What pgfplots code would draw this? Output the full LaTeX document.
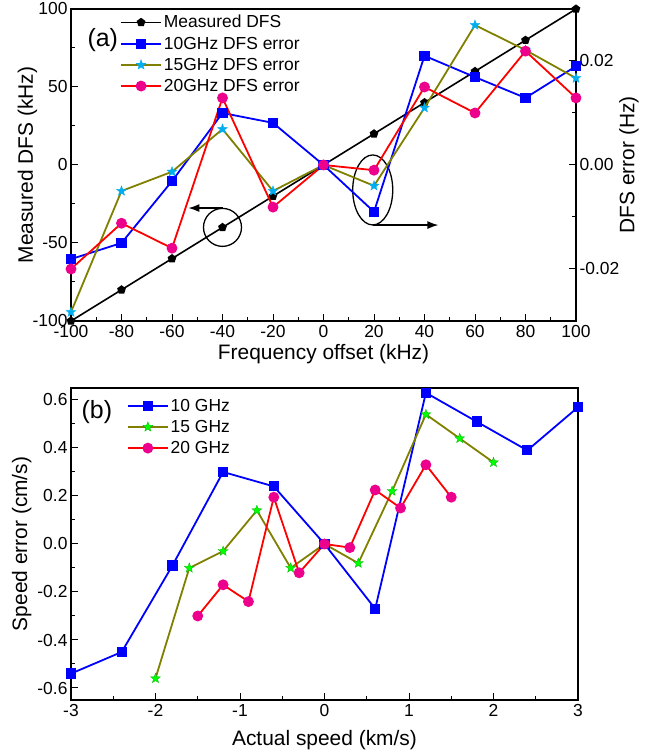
\documentclass[border=0pt]{standalone}
\usepackage{fontspec}
\setmainfont{Liberation Sans}
\usepackage{pgfplots}
\pgfplotsset{compat=1.18}
\usetikzlibrary{arrows.meta}

\pgfdeclareplotmark{fstar}{%
  \pgfpathmoveto{\pgfpointpolar{90}{\pgfplotmarksize}}%
  \pgfpathlineto{\pgfpointpolar{126}{0.42\pgfplotmarksize}}%
  \pgfpathlineto{\pgfpointpolar{162}{\pgfplotmarksize}}%
  \pgfpathlineto{\pgfpointpolar{198}{0.42\pgfplotmarksize}}%
  \pgfpathlineto{\pgfpointpolar{234}{\pgfplotmarksize}}%
  \pgfpathlineto{\pgfpointpolar{270}{0.42\pgfplotmarksize}}%
  \pgfpathlineto{\pgfpointpolar{306}{\pgfplotmarksize}}%
  \pgfpathlineto{\pgfpointpolar{342}{0.42\pgfplotmarksize}}%
  \pgfpathlineto{\pgfpointpolar{18}{\pgfplotmarksize}}%
  \pgfpathlineto{\pgfpointpolar{54}{0.42\pgfplotmarksize}}%
  \pgfpathclose\pgfusepathqfillstroke}

\definecolor{olivec}{RGB}{128,128,0}

\pgfplotsset{
  common/.style={
    scale only axis,
    tick align=inside,
    major tick length=7bp,
    minor tick length=4bp,
    axis line style={line width=1.3bp},
    every tick/.style={line width=1bp, black},
    tick label style={font=\fontsize{17.5}{20}\selectfont},
    xticklabel style={yshift=-1bp},
    label style={font=\fontsize{21}{24}\selectfont},
    /pgf/number format/assume math mode=true,
    legend cell align=left,
    legend image code/.code={\draw[mark repeat=2,mark phase=2,#1] plot coordinates {(0bp,0bp) (20bp,0bp) (40bp,0bp)};},
  },
  ser/.style={line width=1.8bp},
}

\begin{document}
\begin{tikzpicture}
\useasboundingbox (0,0) rectangle (657bp,756bp);

% ---------- (a) left axis ----------
\begin{axis}[common,
  at={(71bp,435bp)}, anchor=south west,
  width=505bp, height=312bp,
  xmin=-100, xmax=100, ymin=-100, ymax=100,
  tick pos=left,
  xtick={-100,-80,...,100}, minor x tick num=1,
  ytick={-100,-50,0,50,100}, minor y tick num=1,
  xlabel={Frequency offset (kHz)},
  ylabel={Measured DFS (kHz)},
  xlabel style={at={(axis description cs:0.5,-0.106)}, anchor=center},
  ylabel style={at={(axis description cs:-0.086,0.5)}, anchor=center},
]
\addplot[black, line width=1.6bp, mark=pentagon*, mark size=3.6bp] coordinates {
(-100,-100) (-80,-80) (-60,-60) (-40,-40) (-20,-20) (0,0) (20,20) (40,40) (60,60) (80,80) (100,100)};
\draw[line width=1.3bp] (axis cs:-40,-40) circle [radius=19bp];
\draw[line width=1.3bp, -{Latex[length=11bp,width=8bp]}] (axis cs:-40,-27.6) -- (axis cs:-53.5,-27.6);
\draw[line width=1.3bp] (axis cs:19.5,-16) ellipse [x radius=20bp, y radius=35bp];
\draw[line width=1.3bp, -{Latex[length=11bp,width=8bp]}] (axis cs:19.5,-38.5) -- (axis cs:45.5,-38.5);
\node[font=\fontsize{25}{28}\selectfont] at (rel axis cs:0.063,0.90) {(a)};
\end{axis}

% ---------- (a) right axis ----------
\begin{axis}[common,
  at={(71bp,435bp)}, anchor=south west,
  width=505bp, height=312bp,
  xmin=-100, xmax=100, ymin=-0.03, ymax=0.03,
  axis x line=none,
  axis y line*=right,
  scaled y ticks=false,
  ytick={-0.02,0,0.02}, minor y tick num=1,
  yticklabel style={/pgf/number format/fixed, /pgf/number format/fixed zerofill, /pgf/number format/precision=2},
  ylabel={DFS error (Hz)},
  ylabel style={at={(axis description cs:1.105,0.5)}, anchor=center},
  legend style={draw=none, fill=none, at={(0.095,0.99)}, anchor=north west,
    font=\fontsize{17.5}{20}\selectfont, row sep=3.5bp, inner sep=1bp},
]
\addlegendimage{black, line width=1.6bp, mark=pentagon*, mark size=3.6bp}
\addlegendentry{Measured DFS}
\addplot[ser, blue, mark=square*, mark size=4.2bp, mark options={fill=blue, draw=blue}] coordinates {
(-100,-0.0181) (-80,-0.0150) (-60,-0.0031) (-40,0.0100) (-20,0.0081) (0,0) (20,-0.0090) (40,0.0210) (60,0.0169) (80,0.0129) (100,0.0190)};
\addlegendentry{10GHz DFS error}
\addplot[ser, olivec, mark=fstar, mark size=5.2bp, mark options={fill=cyan, draw=cyan, line width=0.3bp}] coordinates {
(-100,-0.0283) (-80,-0.0050) (-60,-0.0013) (-40,0.0069) (-20,-0.0050) (0,0) (20,-0.0040) (40,0.0110) (60,0.0269) (80,0.0221) (100,0.0167)};
\addlegendentry{15GHz DFS error}
\addplot[ser, red, mark=*, mark size=4.5bp, mark options={fill=magenta, draw=magenta}] coordinates {
(-100,-0.0200) (-80,-0.0112) (-60,-0.0160) (-40,0.0129) (-20,-0.0081) (0,0) (20,-0.0010) (40,0.0150) (60,0.0100) (80,0.0219) (100,0.0129)};
\addlegendentry{20GHz DFS error}
\end{axis}

% ---------- (b) ----------
\begin{axis}[common,
  at={(71bp,56bp)}, anchor=south west,
  width=507bp, height=312bp,
  xmin=-3, xmax=3, ymin=-0.65, ymax=0.65,
  tick pos=left,
  xtick={-3,-2,...,3}, minor x tick num=1,
  ytick={-0.6,-0.4,-0.2,0,0.2,0.4,0.6}, minor y tick num=1,
  yticklabel style={/pgf/number format/fixed, /pgf/number format/fixed zerofill, /pgf/number format/precision=1},
  xlabel={Actual speed (km/s)},
  ylabel={Speed error (cm/s)},
  xlabel style={at={(axis description cs:0.5,-0.128)}, anchor=center},
  ylabel style={at={(axis description cs:-0.097,0.5)}, anchor=center},
  legend style={draw=none, fill=none, at={(0.108,0.975)}, anchor=north west,
    font=\fontsize{17.5}{20}\selectfont, row sep=3.5bp, inner sep=1bp},
]
\addplot[ser, blue, mark=square*, mark size=4.2bp, mark options={fill=blue, draw=blue}] coordinates {
(-3,-0.54) (-2.4,-0.45) (-1.8,-0.09) (-1.2,0.30) (-0.6,0.24) (0,0) (0.6,-0.27) (1.2,0.63) (1.8,0.51) (2.4,0.39) (3,0.57)};
\addlegendentry{10 GHz}
\addplot[ser, olivec, mark=fstar, mark size=5.2bp, mark options={fill=green, draw=green!70!black, line width=0.3bp}] coordinates {
(-2,-0.56) (-1.6,-0.10) (-1.2,-0.03) (-0.8,0.14) (-0.4,-0.10) (0,0) (0.4,-0.08) (0.8,0.22) (1.2,0.54) (1.6,0.44) (2.0,0.34)};
\addlegendentry{15 GHz}
\addplot[ser, red, mark=*, mark size=4.5bp, mark options={fill=magenta, draw=magenta}] coordinates {
(-1.5,-0.30) (-1.2,-0.17) (-0.9,-0.24) (-0.6,0.195) (-0.3,-0.12) (0,0) (0.3,-0.015) (0.6,0.225) (0.9,0.15) (1.2,0.33) (1.5,0.195)};
\addlegendentry{20 GHz}
\node[font=\fontsize{25}{28}\selectfont] at (rel axis cs:0.051,0.923) {(b)};
\end{axis}
\end{tikzpicture}
\end{document}
